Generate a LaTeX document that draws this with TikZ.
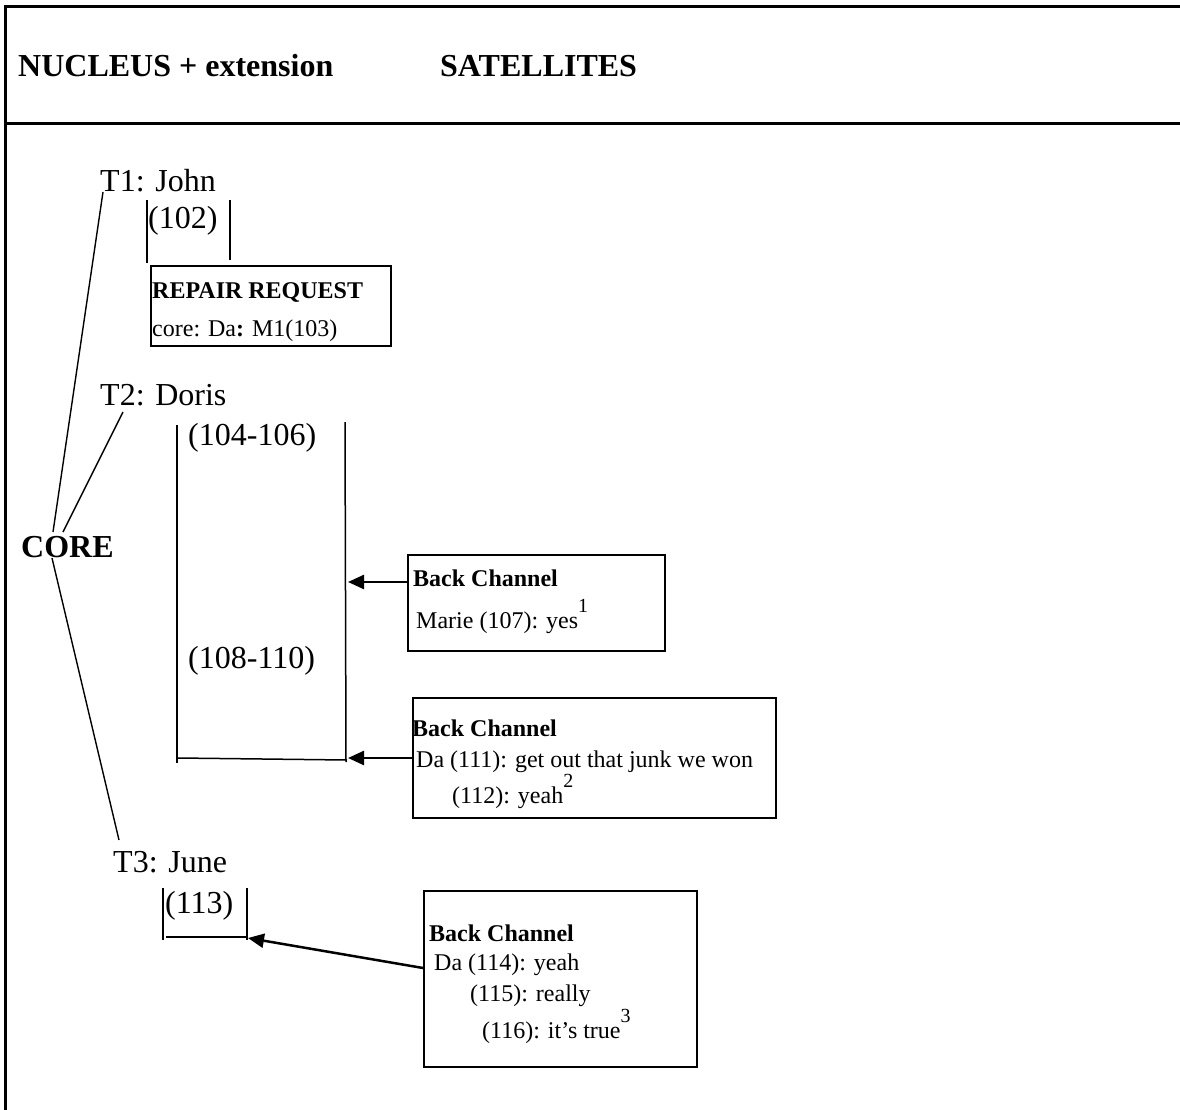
\documentclass[tikz,border=0pt]{standalone}
\usepackage{fontspec}
\setmainfont{Liberation Serif}
\usetikzlibrary{arrows.meta, positioning}
\tikzset{
  rule/.style={line width=3pt},
  tie/.style={line width=1.4pt},
  bracket/.style={line width=1.5pt},
  feed/.style={-{Triangle[length=16pt,width=14pt]}, line width=2.5pt},
  turn/.style={anchor=base west, inner sep=0pt, font=\fontsize{32}{38}\selectfont},
  headtext/.style={turn, font=\fontsize{32}{38}\selectfont\bfseries},
  boxtext/.style={anchor=base west, inner sep=0pt, font=\fontsize{24}{28}\selectfont},
  boxtitle/.style={boxtext, font=\fontsize{24}{28}\selectfont\bfseries},
  satbox/.style={draw, line width=2pt, anchor=north west, inner sep=0pt}
}
\newcommand{\fnmark}[1]{\raisebox{16pt}{\fontsize{20}{24}\selectfont #1}}
\begin{document}
\begin{tikzpicture}[x=1pt, y=-1pt]
  \useasboundingbox (0,0) rectangle (1180,1110);
  % Frame and header
  \draw[rule] (1180,7) -- (5,7) -- (5,1110);
  \draw[rule] (5,124) -- (1180,124);
  \node[headtext] (nucleus) at (18,77) {NUCLEUS + extension};
  \node[headtext] (satellites) at (440,77) {SATELLITES};

  % Core and turns
  \node[headtext] (core) at (21,557) {CORE};
  \node[turn] (t1) at (100,192) {T1: John};
  \node[turn] (t2) at (100,405) {T2: Doris};
  \node[turn] (t3) at (113,872) {T3: June};
  \draw[tie] ([xshift=32pt,yshift=25pt]core.base west) -- ([xshift=3pt]t1.base west);
  \draw[tie] ([xshift=42pt,yshift=25pt]core.base west) -- ([xshift=23pt,yshift=-7pt]t2.base west);
  \draw[tie] ([xshift=31pt,yshift=-1pt]core.base west) -- ([xshift=6pt,yshift=32pt]t3.base west);

  % T1 extension
  \node[turn] (u102) at (148,228) {(102)};
  \draw[bracket] (147,200) -- (147,263);
  \draw[bracket] (230,200) -- (230,260);
  \node[satbox, minimum width=240pt, minimum height=80pt] (repair) at (150,265) {};
  \node[boxtitle] (repairtitle) at (152,298) {REPAIR REQUEST};
  \node[boxtext] (repairline) at (152,336) {core: Da\textbf{:} M1(103)};

  % T2 extension
  \node[turn] (u104) at (188,445) {(104-106)};
  \node[turn] (u108) at (188,668) {(108-110)};
  \draw[bracket] (177,425) -- (177,763);
  \draw[bracket] (345,422) -- (346,762);
  \draw[bracket] (178,758) -- (347,760);
  \coordinate (dorisA) at (348,582);
  \coordinate (dorisB) at (348,758);

  % Back channel 1
  \node[satbox, minimum width=257pt, minimum height=96pt] (bc1) at (407,554) {};
  \node[boxtitle] (bc1title) at (413,586) {Back Channel};
  \node[boxtext] (bc1line) at (416,628) {Marie (107): yes\fnmark{1}};
  \draw[feed] ([yshift=-28pt]bc1.north west) -- (dorisA);

  % Back channel 2
  \node[satbox, minimum width=363pt, minimum height=120pt] (bc2) at (412,697) {};
  \node[boxtitle] (bc2title) at (412,736) {Back Channel};
  \node[boxtext] (bc2lineA) at (416,767) {Da (111): get out that junk we won};
  \node[boxtext] (bc2lineB) at (452,803) {(112): yeah\fnmark{2}};
  \draw[feed] ([yshift=-61pt]bc2.north west) -- (dorisB);

  % T3 extension
  \node[turn] (u113) at (165,913) {(113)};
  \draw[bracket] (163,888) -- (163,940);
  \draw[bracket] (247,888) -- (247,940);
  \draw[bracket] (166,937) -- (247,937);
  \coordinate (juneA) at (248,938);

  % Back channel 3
  \node[satbox, minimum width=273pt, minimum height=176pt] (bc3) at (423,890) {};
  \node[boxtitle] (bc3title) at (429,941) {Back Channel};
  \node[boxtext] (bc3lineA) at (434,970) {Da (114): yeah};
  \node[boxtext] (bc3lineB) at (470,1001) {(115): really};
  \node[boxtext] (bc3lineC) at (482,1038) {(116): it’s true\fnmark{3}};
  \draw[feed] ([yshift=-78pt]bc3.north west) -- (juneA);
\end{tikzpicture}
\end{document}
